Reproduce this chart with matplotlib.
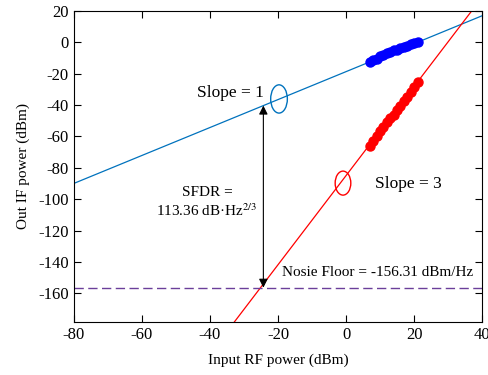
import matplotlib
matplotlib.use('Agg')
import matplotlib.pyplot as plt
import numpy as np
from matplotlib.patches import Ellipse

plt.rcParams['font.family'] = ['Liberation Serif', 'DejaVu Serif']
plt.rcParams['mathtext.fontset'] = 'stix'
plt.rcParams['axes.unicode_minus'] = False

# measured points (dBm)
x_pts = [7, 8, 9, 10, 11, 12, 13, 14, 15, 16, 17, 18, 19, 20, 21]
fund_pts = [-12.4, -11.6, -10.5, -9.0, -8.3, -7.0, -6.4, -5.2, -4.8,
            -3.6, -2.9, -2.1, -1.2, -0.6, 0.0]
imd3_pts = [-65.9, -63.0, -60.0, -56.8, -54.2, -50.8, -48.5, -46.3, -43.2,
            -40.5, -37.4, -35.0, -31.8, -28.6, -25.5]

# fitted lines: slope, intercept
FUND_FIT = (0.89, -18.7)
IMD3_FIT = (2.84, -84.9)
NOISE_FLOOR = -156.31
SFDR_X = -24.3

XLIM = (-80, 40)
YLIM = (-178, 20)
BLUE = '#0072BD'
RED = '#FF0000'

fig = plt.figure(figsize=(4.89, 3.75), dpi=100)
ax = fig.add_axes([0.151, 0.142, 0.835, 0.829])

xs = np.linspace(XLIM[0], XLIM[1], 200)
ax.plot(xs, FUND_FIT[0] * xs + FUND_FIT[1], color=BLUE, lw=0.9)
ax.plot(xs, IMD3_FIT[0] * xs + IMD3_FIT[1], color=RED, lw=0.9)
ax.axhline(NOISE_FLOOR, color='#6B3F9A', lw=1.0, ls=(0, (6.7, 3.2)))

ax.plot(x_pts, fund_pts, 'o', color='#0000FF', ms=6.5)
ax.plot(x_pts, imd3_pts, 'o', color=RED, ms=6.5)

# SFDR arrow
top = FUND_FIT[0] * SFDR_X + FUND_FIT[1]
ax.annotate('', xy=(SFDR_X, top), xytext=(SFDR_X, NOISE_FLOOR),
            arrowprops=dict(arrowstyle='<|-|>', color='black', lw=0.8,
                            mutation_scale=13, shrinkA=0, shrinkB=0))

ax.add_patch(Ellipse((-19.7, -36.1), 4.9, 18, fill=False,
                     edgecolor=BLUE, lw=1.0))
ax.add_patch(Ellipse((-0.9, -89.7), 4.6, 15.3, fill=False,
                     edgecolor=RED, lw=1.0))

ax.text(-34.1, -32.3, 'Slope = 1', fontsize=12.5, ha='center', va='center')
ax.text(18.2, -90.3, 'Slope = 3', fontsize=12.5, ha='center', va='center')
ax.text(-40.9, -102, 'SFDR =\n113.36 dB\u00b7Hz$^{2/3}$', fontsize=11,
        ha='center', va='center', multialignment='center', linespacing=1.2)
ax.text(9.3, -146.8, 'Nosie Floor = -156.31 dBm/Hz', fontsize=11,
        ha='center', va='center')

ax.set_xlim(*XLIM)
ax.set_ylim(*YLIM)
ax.set_xticks(range(-80, 41, 20))
ax.set_yticks(range(-160, 21, 20))
ax.tick_params(direction='in', top=True, right=True, length=5,
               labelsize=12, width=0.8)
for s in ax.spines.values():
    s.set_linewidth(0.8)
ax.set_xlabel('Input RF power (dBm)', fontsize=11, labelpad=8)
ax.set_ylabel('Out IF power (dBm)', fontsize=11, labelpad=6)

fig.savefig('out.png', dpi=100)
